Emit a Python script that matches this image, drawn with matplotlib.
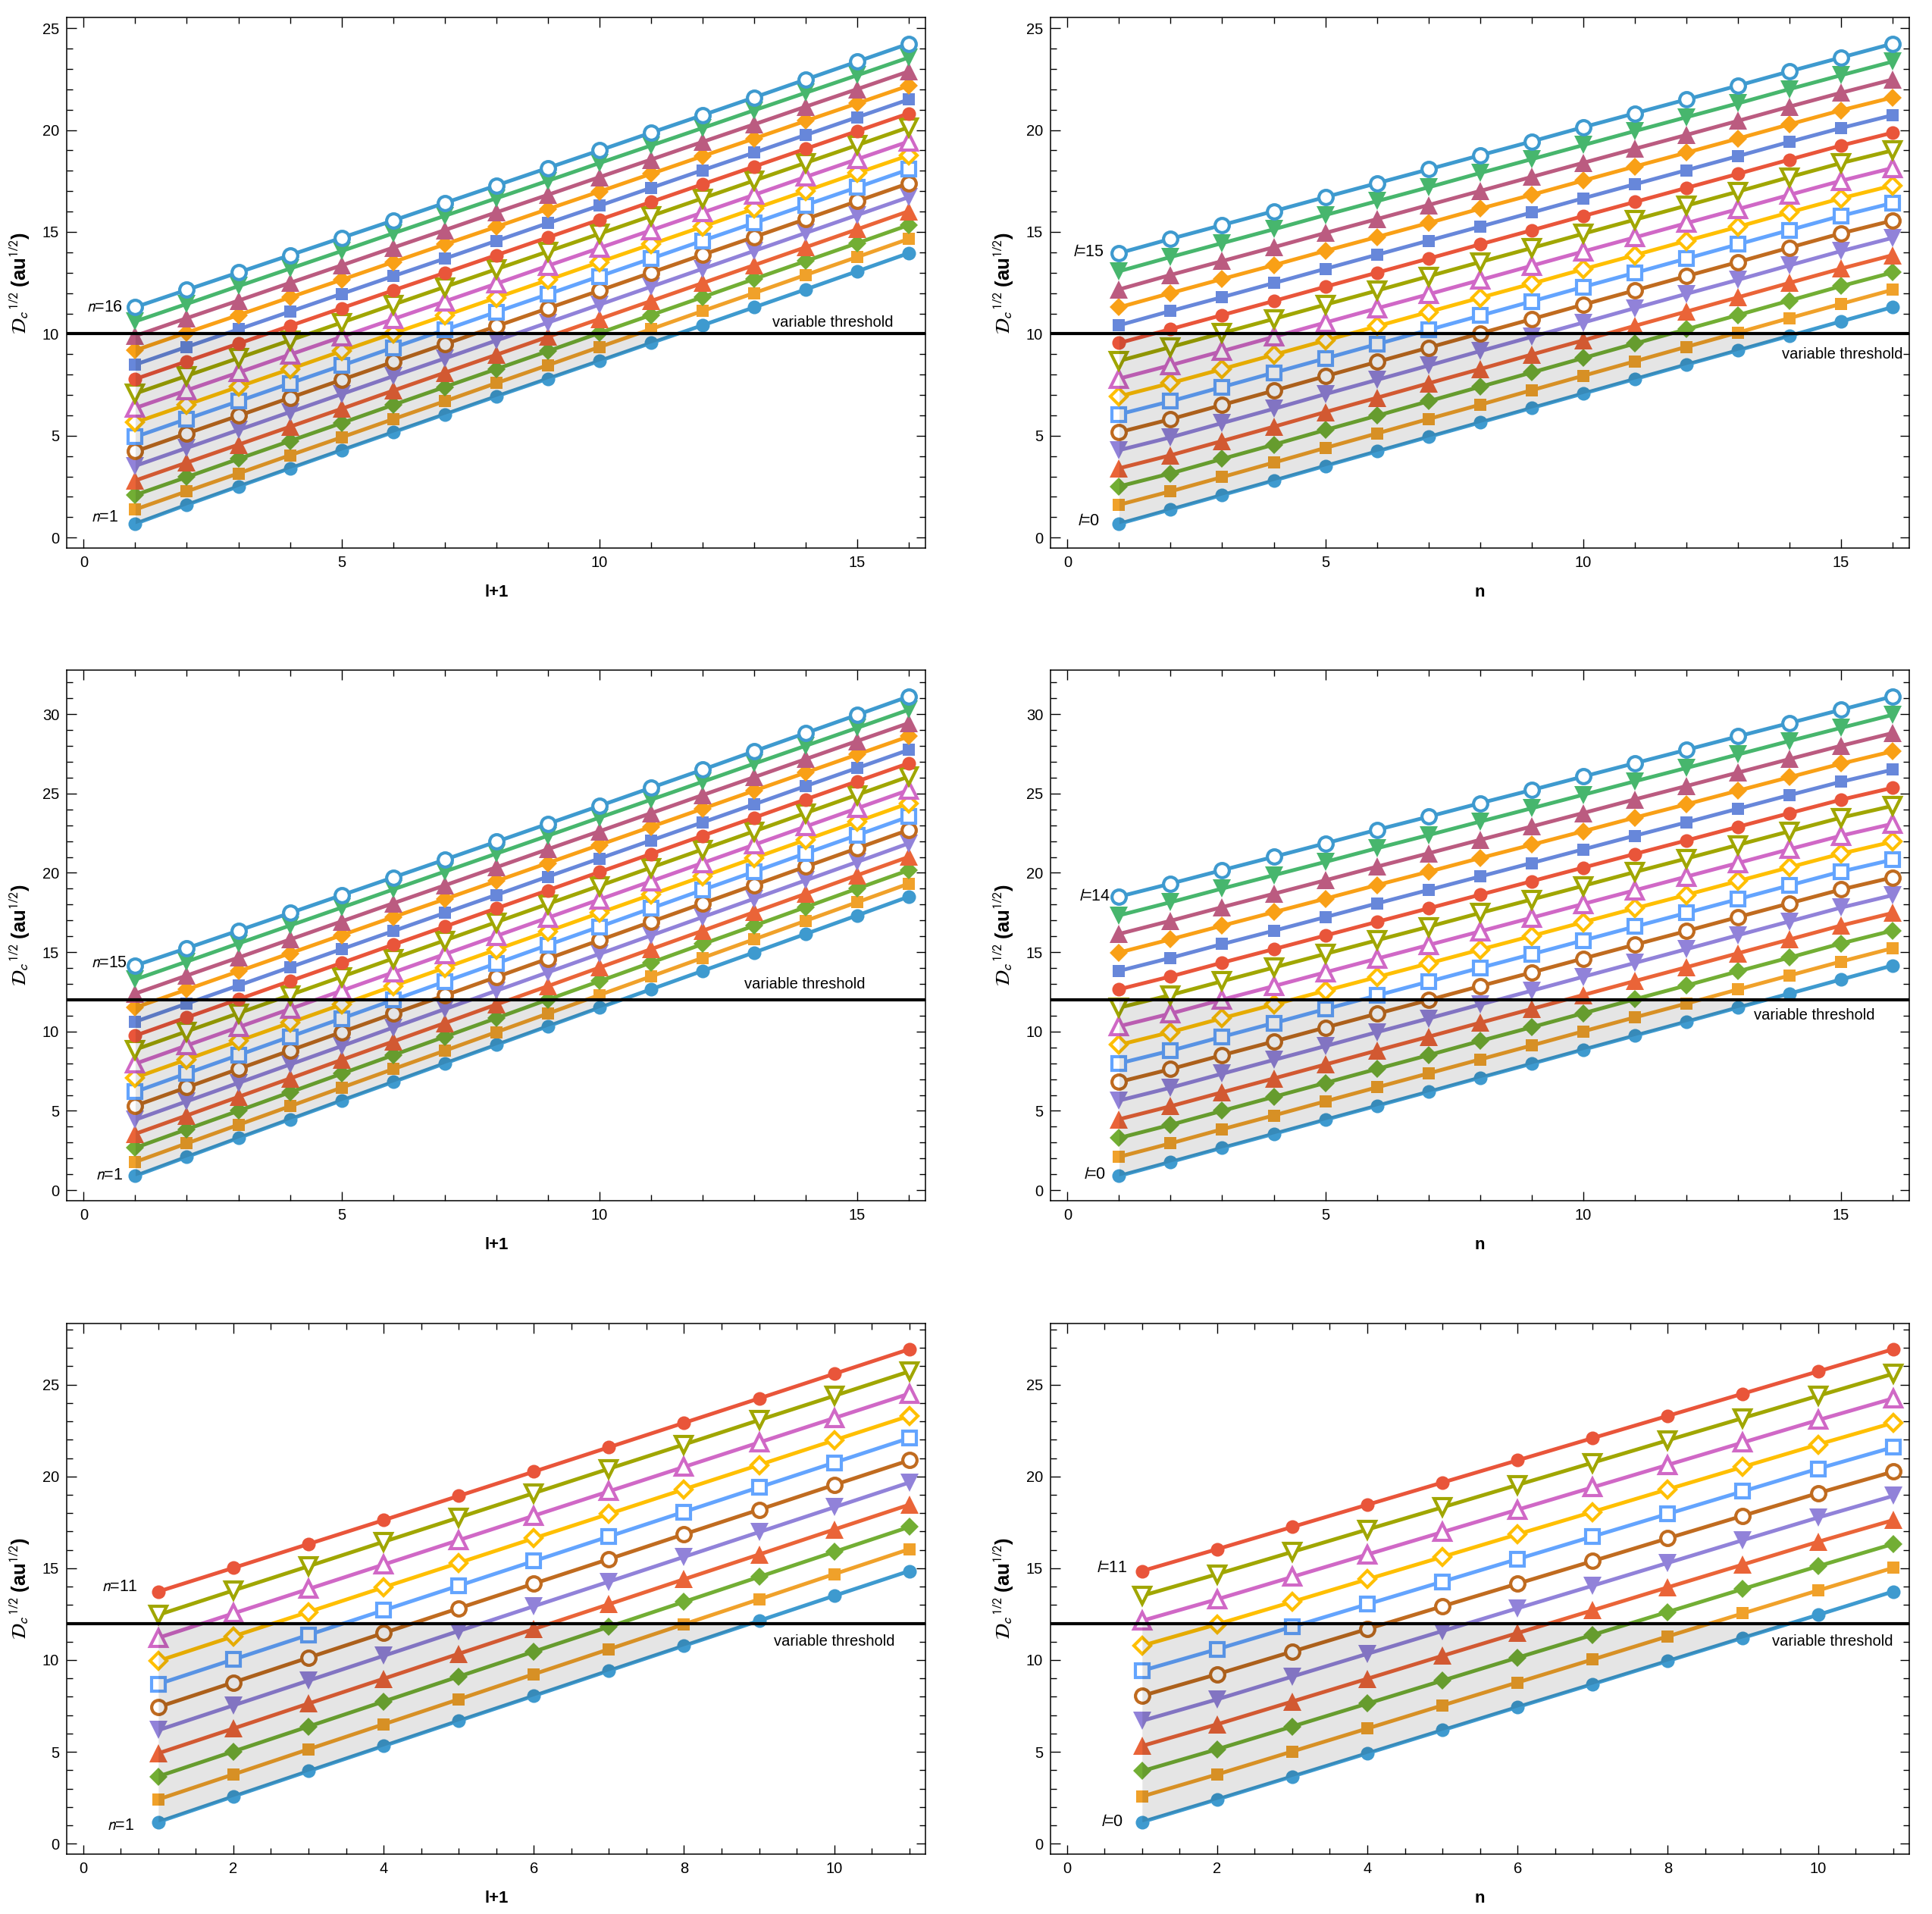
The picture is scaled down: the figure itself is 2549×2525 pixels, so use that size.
import numpy as np
import matplotlib
matplotlib.use('Agg')
import matplotlib.pyplot as plt
from matplotlib.ticker import MultipleLocator

plt.rcParams['font.family'] = ['Liberation Sans', 'DejaVu Sans']

# Dc^(1/2): rows are n = 1.., columns are l = 0..
top_vals = [
    [0.68, 1.61, 2.51, 3.40, 4.29, 5.17, 6.05, 6.93, 7.80, 8.67, 9.55, 10.42, 11.30, 12.18, 13.07, 13.96],
    [1.38, 2.27, 3.15, 4.04, 4.92, 5.81, 6.69, 7.58, 8.46, 9.35, 10.23, 11.12, 12.00, 12.89, 13.77, 14.66],
    [2.09, 2.97, 3.86, 4.74, 5.62, 6.51, 7.39, 8.27, 9.15, 10.04, 10.92, 11.80, 12.69, 13.57, 14.45, 15.34],
    [2.80, 3.68, 4.56, 5.44, 6.32, 7.21, 8.09, 8.97, 9.85, 10.73, 11.61, 12.49, 13.37, 14.25, 15.13, 16.02],
    [3.52, 4.40, 5.28, 6.16, 7.04, 7.92, 8.79, 9.67, 10.55, 11.43, 12.31, 13.19, 14.07, 14.95, 15.83, 16.71],
    [4.23, 5.11, 5.98, 6.86, 7.74, 8.62, 9.49, 10.37, 11.25, 12.12, 13.00, 13.88, 14.75, 15.63, 16.51, 17.39],
    [4.94, 5.82, 6.69, 7.57, 8.44, 9.32, 10.19, 11.07, 11.94, 12.82, 13.69, 14.57, 15.44, 16.32, 17.19, 18.07],
    [5.65, 6.52, 7.40, 8.27, 9.15, 10.02, 10.89, 11.77, 12.64, 13.52, 14.39, 15.26, 16.14, 17.01, 17.89, 18.76],
    [6.36, 7.23, 8.10, 8.98, 9.85, 10.72, 11.59, 12.46, 13.34, 14.21, 15.08, 15.95, 16.82, 17.70, 18.57, 19.44],
    [7.07, 7.94, 8.81, 9.68, 10.55, 11.43, 12.30, 13.17, 14.04, 14.91, 15.78, 16.65, 17.52, 18.39, 19.26, 20.14],
    [7.78, 8.65, 9.52, 10.39, 11.26, 12.13, 12.99, 13.86, 14.73, 15.60, 16.47, 17.34, 18.21, 19.08, 19.95, 20.82],
    [8.49, 9.36, 10.22, 11.09, 11.96, 12.83, 13.69, 14.56, 15.43, 16.29, 17.16, 18.03, 18.89, 19.76, 20.63, 21.50],
    [9.19, 10.06, 10.92, 11.79, 12.65, 13.52, 14.39, 15.25, 16.12, 16.98, 17.85, 18.72, 19.58, 20.45, 21.31, 22.18],
    [9.90, 10.77, 11.63, 12.50, 13.36, 14.23, 15.09, 15.96, 16.82, 17.69, 18.55, 19.42, 20.28, 21.15, 22.01, 22.88],
    [10.61, 11.47, 12.34, 13.20, 14.06, 14.93, 15.79, 16.65, 17.51, 18.38, 19.24, 20.10, 20.97, 21.83, 22.69, 23.56],
    [11.31, 12.16, 13.01, 13.86, 14.71, 15.56, 16.42, 17.28, 18.14, 19.00, 19.87, 20.73, 21.60, 22.48, 23.36, 24.24],
]

mid_vals = [
    [0.90, 2.10, 3.29, 4.47, 5.65, 6.82, 7.99, 9.16, 10.33, 11.50, 12.66, 13.82, 14.98, 16.15, 17.32, 18.50],
    [1.78, 2.95, 4.12, 5.29, 6.46, 7.63, 8.79, 9.96, 11.13, 12.30, 13.47, 14.64, 15.81, 16.98, 18.15, 19.32],
    [2.67, 3.84, 5.00, 6.17, 7.34, 8.51, 9.67, 10.84, 12.01, 13.17, 14.34, 15.51, 16.67, 17.84, 19.01, 20.17],
    [3.55, 4.71, 5.88, 7.04, 8.21, 9.37, 10.53, 11.70, 12.86, 14.03, 15.19, 16.35, 17.52, 18.68, 19.85, 21.01],
    [4.44, 5.60, 6.76, 7.92, 9.08, 10.25, 11.41, 12.57, 13.73, 14.89, 16.05, 17.21, 18.37, 19.53, 20.69, 21.86],
    [5.32, 6.48, 7.64, 8.80, 9.96, 11.12, 12.27, 13.43, 14.59, 15.75, 16.91, 18.07, 19.23, 20.39, 21.55, 22.71],
    [6.20, 7.36, 8.51, 9.67, 10.82, 11.98, 13.14, 14.29, 15.45, 16.60, 17.76, 18.92, 20.07, 21.23, 22.38, 23.54],
    [7.09, 8.24, 9.40, 10.55, 11.70, 12.86, 14.01, 15.16, 16.31, 17.47, 18.62, 19.77, 20.93, 22.08, 23.23, 24.39],
    [7.97, 9.12, 10.27, 11.42, 12.57, 13.72, 14.87, 16.02, 17.17, 18.32, 19.47, 20.62, 21.77, 22.92, 24.07, 25.22],
    [8.86, 10.01, 11.15, 12.30, 13.45, 14.60, 15.74, 16.89, 18.04, 19.18, 20.33, 21.48, 22.62, 23.77, 24.92, 26.07],
    [9.74, 10.89, 12.03, 13.18, 14.32, 15.47, 16.61, 17.76, 18.90, 20.05, 21.19, 22.34, 23.48, 24.63, 25.77, 26.91],
    [10.62, 11.76, 12.90, 14.05, 15.19, 16.33, 17.47, 18.61, 19.76, 20.90, 22.04, 23.18, 24.32, 25.47, 26.61, 27.75],
    [11.51, 12.65, 13.79, 14.93, 16.07, 17.21, 18.34, 19.48, 20.62, 21.76, 22.90, 24.04, 25.18, 26.32, 27.46, 28.60],
    [12.39, 13.53, 14.66, 15.80, 16.94, 18.08, 19.21, 20.35, 21.49, 22.62, 23.76, 24.90, 26.03, 27.17, 28.31, 29.44],
    [13.28, 14.41, 15.55, 16.68, 17.81, 18.95, 20.08, 21.21, 22.34, 23.48, 24.61, 25.74, 26.88, 28.01, 29.14, 30.28],
    [14.16, 15.25, 16.36, 17.47, 18.59, 19.71, 20.83, 21.96, 23.09, 24.22, 25.36, 26.50, 27.66, 28.81, 29.96, 31.12],
]

bot_vals = [
    [1.18, 2.57, 3.95, 5.32, 6.69, 8.05, 9.42, 10.78, 12.14, 13.50, 14.85],
    [2.41, 3.77, 5.14, 6.50, 7.86, 9.23, 10.59, 11.95, 13.31, 14.68, 16.04],
    [3.66, 5.02, 6.38, 7.74, 9.10, 10.46, 11.81, 13.17, 14.53, 15.89, 17.25],
    [4.92, 6.27, 7.63, 8.98, 10.34, 11.69, 13.04, 14.40, 15.75, 17.11, 18.46],
    [6.18, 7.53, 8.88, 10.23, 11.58, 12.93, 14.27, 15.62, 16.97, 18.32, 19.67],
    [7.44, 8.78, 10.13, 11.47, 12.82, 14.16, 15.50, 16.85, 18.19, 19.54, 20.88],
    [8.69, 10.03, 11.37, 12.71, 14.05, 15.39, 16.73, 18.07, 19.41, 20.75, 22.09],
    [9.95, 11.29, 12.62, 13.96, 15.29, 16.63, 17.96, 19.30, 20.63, 21.97, 23.30],
    [11.21, 12.54, 13.87, 15.20, 16.53, 17.86, 19.19, 20.52, 21.85, 23.18, 24.51],
    [12.46, 13.79, 15.11, 16.44, 17.76, 19.09, 20.42, 21.74, 23.07, 24.39, 25.72],
    [13.73, 15.02, 16.32, 17.62, 18.94, 20.26, 21.59, 22.92, 24.25, 25.59, 26.93],
]

colors = ['#3e9acf', '#f0a12a', '#72ae34', '#ea6438', '#9182d9', '#c06b1f', '#63a4fe', '#ffbf00',
          '#d068c6', '#a0a600', '#e9553a', '#6787da', '#f9a016', '#bb5b80', '#47b66d', '#3e9acf']
markers = ['o', 's', 'D', '^', 'v', 'o', 's', 'D', '^', 'v', 'o', 's', 'D', '^', 'v', 'o']
hollow = [False] * 5 + [True] * 5 + [False] * 5 + [True]
msize = {'o': 13, 's': 12, 'D': 11.8, '^': 17.5, 'v': 17.5}
msize_open = {'o': 13.5, 's': 13, 'D': 11.5, '^': 16.5, 'v': 16.5}

LBL = 14.5


def panel(rect, vals, by_l, thr, xlabel, xlim, ylim, xmaj, xmin, texts, thr_pos):
    ax = fig.add_axes(rect)
    vals = np.array(vals)
    if by_l:
        vals = vals.T
    xs = np.arange(1, vals.shape[1] + 1)
    for k, ys in enumerate(vals):
        c, m = colors[k], markers[k]
        if hollow[k]:
            ax.plot(xs, ys, color=c, lw=3.6, marker=m, ms=msize_open[m], mfc='white', mec=c, mew=3.0,
                    zorder=2, solid_joinstyle='round')
        else:
            ax.plot(xs, ys, color=c, lw=3.6, marker=m, ms=msize[m], mfc=c, mec=c, mew=0,
                    zorder=2, solid_joinstyle='round')
    low = vals[0]
    ax.fill_between(xs, low, thr, where=low <= thr, interpolate=True, color='black', alpha=0.1,
                    lw=0, zorder=3)
    ax.axhline(thr, color='black', lw=3, zorder=4)
    ax.text(thr_pos[0], thr_pos[1], 'variable threshold', fontsize=LBL, ha='center', va='center', zorder=5)
    for (tx, ty, s) in texts:
        ax.text(tx, ty, s, fontsize=15.5, ha='center', va='center', math_fontfamily='stixsans', zorder=5)

    ax.set_xlim(*xlim)
    ax.set_ylim(*ylim)
    ax.xaxis.set_major_locator(MultipleLocator(xmaj))
    ax.xaxis.set_minor_locator(MultipleLocator(xmin))
    ax.yaxis.set_major_locator(MultipleLocator(5))
    ax.yaxis.set_minor_locator(MultipleLocator(1))
    ax.tick_params(which='both', direction='in', top=True, right=True, width=1.0, color='black')
    ax.tick_params(which='major', length=9, labelsize=LBL, pad=7)
    ax.tick_params(which='minor', length=5.5)
    for sp in ax.spines.values():
        sp.set_linewidth(1.1)
    ax.set_xlabel(xlabel, fontsize=16, fontweight='bold', labelpad=14)
    ax.set_ylabel(r'$\mathcal{D}_c$$^{\,1/2}$ (au$^{1/2}$)', fontsize=18.5, fontweight='bold',
                  labelpad=10, math_fontfamily='stixsans')
    return ax


fig = plt.figure(figsize=(25.49, 25.25), dpi=100)

L, R, W = 0.0345, 0.5437, 0.4447
panel([L, 0.7137, W, 0.2770], top_vals, False, 10, 'l+1', (-0.33, 16.33), (-0.51, 25.51), 5, 1,
      [(0.40, 11.29, r'$n$=16'), (0.40, 0.99, r'$n$=1')], (14.52, 10.54))
panel([R, 0.7137, W, 0.2770], top_vals, True, 10, 'n', (-0.33, 16.33), (-0.51, 25.51), 5, 1,
      [(0.41, 14.0, r'$l$=15'), (0.41, 0.8, r'$l$=0')], (15.02, 8.98))
panel([L, 0.3727, W, 0.2772], mid_vals, False, 12, 'l+1', (-0.33, 16.33), (-0.66, 32.78), 5, 1,
      [(0.50, 14.3, r'$n$=15'), (0.50, 0.95, r'$n$=1')], (13.98, 12.96))
panel([R, 0.3727, W, 0.2772], mid_vals, True, 12, 'n', (-0.33, 16.33), (-0.66, 32.78), 5, 1,
      [(0.52, 18.5, r'$l$=14'), (0.52, 1.0, r'$l$=0')], (14.49, 11.0))
panel([L, 0.0313, W, 0.2772], bot_vals, False, 12, 'l+1', (-0.22, 11.22), (-0.57, 28.33), 2, 0.5,
      [(0.49, 14.0, r'$n$=11'), (0.50, 0.98, r'$n$=1')], (10.0, 10.99))
panel([R, 0.0313, W, 0.2772], bot_vals, True, 12, 'n', (-0.22, 11.22), (-0.57, 28.33), 2, 0.5,
      [(0.60, 15.0, r'$l$=11'), (0.60, 1.2, r'$l$=0')], (10.19, 10.99))

fig.savefig('out.png', dpi=100)
